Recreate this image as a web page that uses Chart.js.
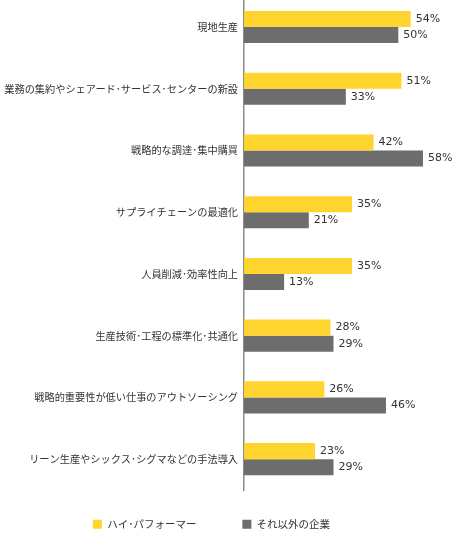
<!DOCTYPE html>
<html>
<head>
<meta charset="utf-8">
<script src="https://cdn.jsdelivr.net/npm/chart.js@4.4.0/dist/chart.umd.min.js"></script>
<style>
  html, body { margin: 0; padding: 0; background: #fff; overflow: hidden; }
  #wrap { position: absolute; left: 0; top: -10px; width: 452px; height: 543px; }
</style>
</head>
<body>
<div id="wrap"><canvas id="chart"></canvas></div>
<script>
// Dados do gráfico
const categories = [
  '現地生産',
  '業務の集約やシェアード･サービス･センターの新設',
  '戦略的な調達･集中購買',
  'サプライチェーンの最適化',
  '人員削減･効率性向上',
  '生産技術･工程の標準化･共通化',
  '戦略的重要性が低い仕事のアウトソーシング',
  'リーン生産やシックス･シグマなどの手法導入'
];
const highPerformers = [54, 51, 42, 35, 35, 28, 26, 23];
const otherCompanies = [50, 33, 58, 21, 13, 29, 46, 29];
const seriesNames = ['ハイ･パフォーマー', 'それ以外の企業'];
const xMax = 58;

// Rótulos de valor ao lado das barras
const valueLabels = {
  id: 'valueLabels',
  afterDatasetsDraw(chart) {
    const ctx = chart.ctx;
    ctx.save();
    ctx.font = '11px "DejaVu Sans"';
    ctx.fillStyle = '#333333';
    ctx.textBaseline = 'middle';
    ctx.textAlign = 'left';
    chart.data.datasets.forEach((ds, i) => {
      chart.getDatasetMeta(i).data.forEach((bar, j) => {
        ctx.fillText(ds.data[j] + '%', bar.x + 5, bar.y);
      });
    });
    ctx.restore();
  }
};

// Sobe a legenda para compensar o padding grande entre itens (e amplia o clip)
const legendShift = {
  id: 'legendShift',
  afterLayout(chart) {
    const lg = chart.legend;
    lg.top -= 17;
    lg.bottom = lg.top + 80;
    lg.height = 80;
  }
};

new Chart(document.getElementById('chart'), {
  type: 'bar',
  data: {
    labels: categories,
    datasets: [{
      label: seriesNames[0],
      data: highPerformers,
      backgroundColor: '#FFD42E',
      borderWidth: 0
    }, {
      label: seriesNames[1],
      data: otherCompanies,
      backgroundColor: '#6D6D6D',
      borderWidth: 0
    }]
  },
  options: {
    indexAxis: 'y',
    responsive: true,
    maintainAspectRatio: false,
    animation: false,
    categoryPercentage: 0.52,
    barPercentage: 1,
    layout: { padding: { left: 0, right: 29, top: 0, bottom: 12 } },
    scales: {
      x: { display: false, min: 0, max: xMax },
      y: {
        grid: { display: false, drawTicks: true, tickLength: 6 },
        border: { display: true, color: '#8C8C8C', width: 1.5 },
        ticks: {
          padding: 0,
          color: '#333333',
          font: { family: '"Noto Sans CJK JP"', size: 10.2 }
        },
        afterFit(scale) { scale.width = 244; }
      }
    },
    plugins: {
      tooltip: { enabled: false },
      legend: {
        position: 'bottom',
        maxHeight: 31,
        labels: {
          boxWidth: 9,
          boxHeight: 9,
          padding: 46,
          color: '#333333',
          font: { family: '"Noto Sans CJK JP"', size: 10.5 }
        }
      }
    }
  },
  plugins: [valueLabels, legendShift]
});
</script>
</body>
</html>
